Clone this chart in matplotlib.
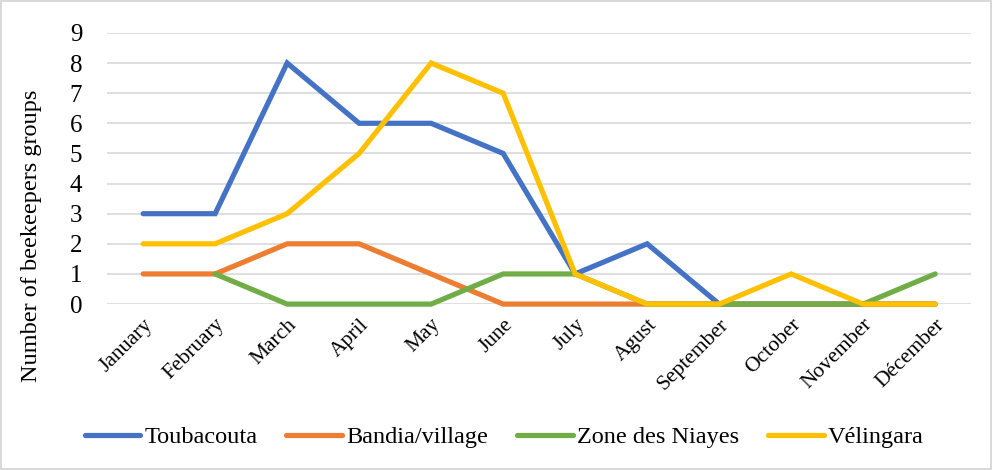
import matplotlib.pyplot as plt
import numpy as np

# monthly counts
months = ["January", "February", "March", "April", "May", "June", "July",
          "Agust", "September", "October", "November", "Décember"]
toubacouta = [3, 3, 8, 6, 6, 5, 1, 2, 0, 0, 0, 0]
bandia = [1, 1, 2, 2, 1, 0, 0, 0, 0, 0, 0, 0]
niayes = [np.nan, 1, 0, 0, 0, 1, 1, 0, 0, 0, 0, 1]
velingara = [2, 2, 3, 5, 8, 7, 1, 0, 0, 1, 0, 0]

series = [
    ("Toubacouta", toubacouta, "#4472C4"),
    ("Bandia/village", bandia, "#ED7D31"),
    ("Zone des Niayes", niayes, "#70AD47"),
    ("Vélingara", velingara, "#FFC000"),
]

plt.rcParams['font.family'] = ['Liberation Serif', 'DejaVu Serif']

fig = plt.figure(figsize=(9.92, 4.70), dpi=100, edgecolor="#D9D9D9", linewidth=1.5)
ax = fig.add_axes([0.108, 0.353, 0.871, 0.577])

x = np.arange(len(months))
for name, vals, color in series:
    ax.plot(x, vals, color=color, linewidth=3.75, label=name,
            solid_capstyle="round", solid_joinstyle="miter", clip_on=False)

ax.set_xlim(-0.5, len(months) - 0.5)
ax.set_ylim(0, 9)
ax.set_yticks(range(0, 10))
ax.set_xticks(x)
ax.set_xticklabels(months, rotation=45, ha="right", rotation_mode="anchor", fontsize=15.5)
ax.tick_params(axis="y", length=0, labelsize=18, pad=18)
ax.tick_params(axis="x", length=0, pad=8)
ax.yaxis.grid(True, color="#D9D9D9", linewidth=1.2)
ax.set_axisbelow(True)
for s in ax.spines.values():
    s.set_visible(False)

ax.set_ylabel("Number of beekeepers groups", fontsize=17.5)
ax.yaxis.set_label_coords(-0.075, 0.25)

fig.legend(loc="lower center", bbox_to_anchor=(0.508, 0.0), ncol=4, frameon=False,
           fontsize=17.5, handlelength=2.3, columnspacing=1.2, handletextpad=0.15)

fig.savefig("out.png", dpi=100, edgecolor=fig.get_edgecolor())
